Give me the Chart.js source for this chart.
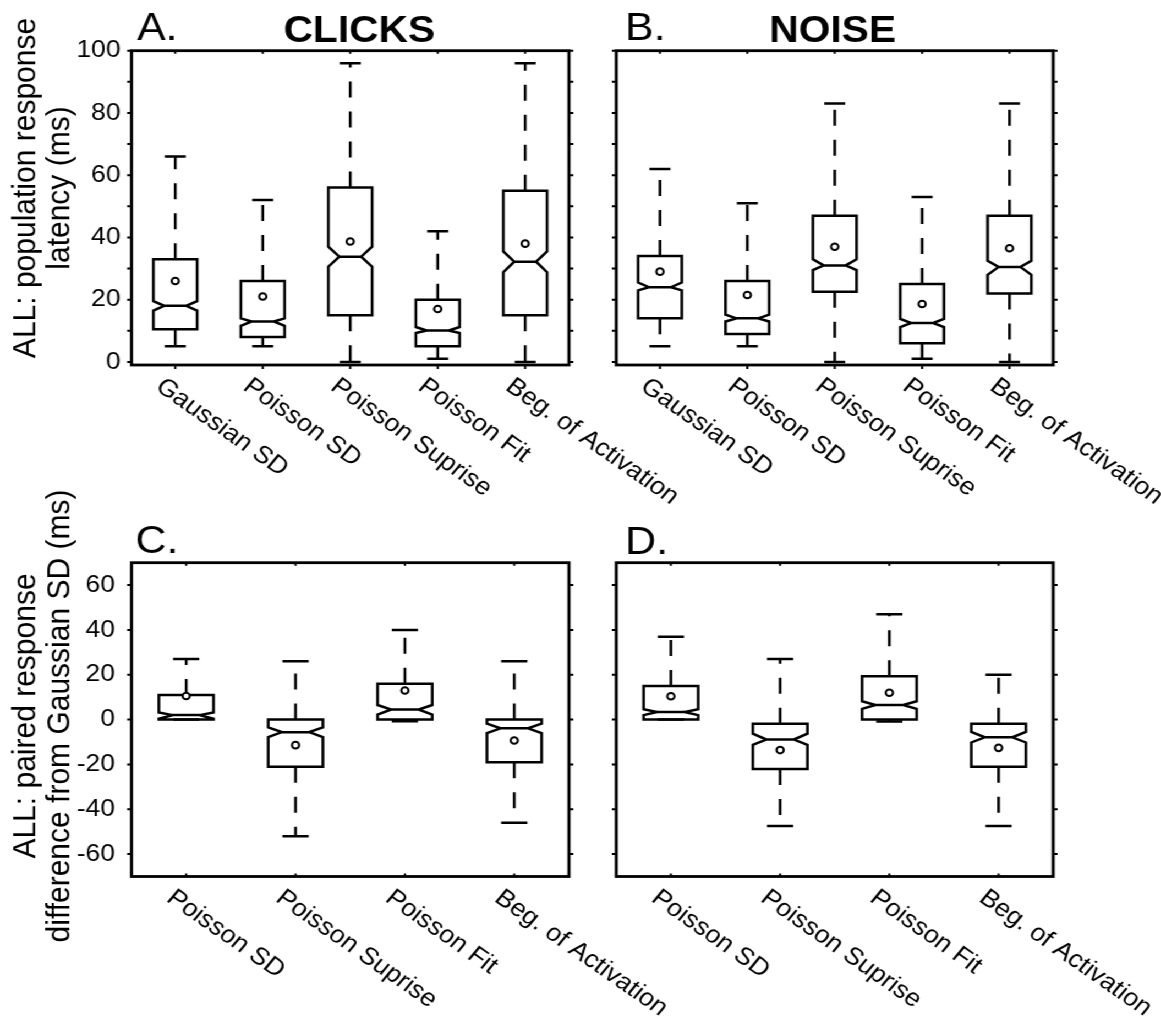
<!DOCTYPE html>
<html>
<head>
<meta charset="utf-8">
<title>Population response latency</title>
<script src="https://cdn.jsdelivr.net/npm/chart.js@4.4.1/dist/chart.umd.min.js"></script>
<style>
  html, body { margin: 0; padding: 0; background: #fff; overflow: hidden; }
  /* the original figure is a little wider than its fonts, so the drawing is stretched sideways */
  #fig { position: absolute; left: 0; top: 0; width: 1055px; height: 1025px;
         transform: scaleX(1.1005); transform-origin: 0 0; }
  #fig canvas { position: absolute; left: 0; top: 0; }
</style>
</head>
<body>
<div id="fig">
  <canvas id="chartA" width="1055" height="1025"></canvas>
  <canvas id="chartB" width="1055" height="1025"></canvas>
  <canvas id="chartC" width="1055" height="1025"></canvas>
  <canvas id="chartD" width="1055" height="1025"></canvas>
</div>
<script>
// categories
const latencyLabels = ['Gaussian SD', 'Poisson SD', 'Poisson Suprise', 'Poisson Fit', 'Beg. of Activation'];
const diffLabels = ['Poisson SD', 'Poisson Suprise', 'Poisson Fit', 'Beg. of Activation'];

// y ticks (latency ticks every 10, labelled every 20)
const latencyTicks = [0, 10, 20, 30, 40, 50, 60, 70, 80, 90, 100];
const diffTicks = [-60, -40, -20, 0, 20, 40, 60];

// A. CLICKS - latency (ms)
const clicksHi = [66, 52, 96, 42, 96];
const clicksQ3 = [33, 26, 56, 20, 55];
const clicksNotchHi = [19.5, 14, 37, 11.2, 35.5];
const clicksMed = [18, 13, 33.8, 10.1, 32.2];
const clicksNotchLo = [16.5, 11.6, 30.6, 9.3, 28.8];
const clicksQ1 = [10.5, 8, 15, 5, 15];
const clicksLo = [5, 5, 0, 1, 0];
const clicksMean = [26, 21, 38.7, 17, 38];

// B. NOISE - latency (ms)
const noiseHi = [62, 51, 83, 53, 83];
const noiseQ3 = [34, 26, 47, 25, 47];
const noiseNotchHi = [25.5, 15.2, 33, 13.8, 32.5];
const noiseMed = [24, 14, 31, 12.5, 30.5];
const noiseNotchLo = [23, 13, 29.5, 11.2, 28];
const noiseQ1 = [14, 9, 22.5, 6, 22];
const noiseLo = [5, 5, 0, 1, 0];
const noiseMean = [29, 21.5, 37, 18.6, 36.5];

// C. CLICKS - difference from Gaussian SD (ms)
const clicksDiffHi = [27, 26, 40, 26];
const clicksDiffQ3 = [11, 0, 16, 0];
const clicksDiffNotchHi = [3.2, -3.5, 6.5, -1.8];
const clicksDiffMed = [2, -5.6, 4.5, -3.9];
const clicksDiffNotchLo = [0.4, -7.8, 2.2, -6];
const clicksDiffQ1 = [0, -21, 0, -19];
const clicksDiffLo = [0, -52, -0.7, -46];
const clicksDiffMean = [10.5, -11.4, 13, -9.3];

// D. NOISE - difference from Gaussian SD (ms)
const noiseDiffHi = [37, 27, 47, 20];
const noiseDiffQ3 = [15, -1.8, 19.3, -1.8];
const noiseDiffNotchHi = [4.6, -6.3, 8.2, -5.5];
const noiseDiffMed = [3.4, -8.9, 6.5, -7.9];
const noiseDiffNotchLo = [2, -11.3, 4.8, -10.2];
const noiseDiffQ1 = [0, -22, 0, -21];
const noiseDiffLo = [0, -47.5, -0.9, -47.5];
const noiseDiffMean = [10.4, -13.6, 12, -12.6];

const FONT = '"Liberation Sans", Arial, Helvetica, sans-serif';
const CANVAS_W = 1055, CANVAS_H = 1025;
const Y_AXIS_W = 80, X_AXIS_H = 20;

// draws notched boxes + whiskers under the mean points, then frame, ticks and texts
const boxPlot = {
    id: 'boxPlot',
    beforeDatasetsDraw(chart, args, o) {
        const ctx = chart.ctx;
        const x = chart.scales.x, y = chart.scales.y;
        const s = o.stats;
        const step = x.getPixelForValue(1) - x.getPixelForValue(0);
        const hw = step * 0.25;
        const nw = hw * 0.5;
        const cw = step * 0.12;
        const py = v => y.getPixelForValue(v);
        ctx.save();
        ctx.strokeStyle = '#000';
        ctx.lineWidth = 2.5;
        ctx.lineJoin = 'miter';
        s.med.forEach((m, i) => {
            const cx = x.getPixelForValue(i);
            // dashed whiskers, starting at the box
            ctx.setLineDash([16, 14]);
            ctx.beginPath();
            ctx.moveTo(cx, py(s.q3[i]));
            ctx.lineTo(cx, py(s.hi[i]));
            ctx.stroke();
            ctx.beginPath();
            ctx.moveTo(cx, py(s.q1[i]));
            ctx.lineTo(cx, py(s.lo[i]));
            ctx.stroke();
            ctx.setLineDash([]);
            ctx.beginPath();
            ctx.moveTo(cx - cw, py(s.hi[i]));
            ctx.lineTo(cx + cw, py(s.hi[i]));
            ctx.moveTo(cx - cw, py(s.lo[i]));
            ctx.lineTo(cx + cw, py(s.lo[i]));
            ctx.stroke();

            const nHi = Math.min(s.notchHi[i], s.q3[i]);
            const nLo = Math.max(s.notchLo[i], s.q1[i]);
            ctx.beginPath();
            ctx.moveTo(cx - hw, py(s.q3[i]));
            ctx.lineTo(cx + hw, py(s.q3[i]));
            ctx.lineTo(cx + hw, py(nHi));
            ctx.lineTo(cx + nw, py(m));
            ctx.lineTo(cx + hw, py(nLo));
            ctx.lineTo(cx + hw, py(s.q1[i]));
            ctx.lineTo(cx - hw, py(s.q1[i]));
            ctx.lineTo(cx - hw, py(nLo));
            ctx.lineTo(cx - nw, py(m));
            ctx.lineTo(cx - hw, py(nHi));
            ctx.closePath();
            ctx.moveTo(cx - nw, py(m));
            ctx.lineTo(cx + nw, py(m));
            ctx.stroke();
        });
        ctx.restore();
    },
    afterDraw(chart, args, o) {
        const ctx = chart.ctx;
        const a = chart.chartArea;
        const x = chart.scales.x, y = chart.scales.y;
        ctx.save();
        ctx.strokeStyle = '#000';
        ctx.fillStyle = '#000';
        ctx.lineWidth = 2.8;
        ctx.strokeRect(a.left, a.top, a.right - a.left, a.bottom - a.top);

        // y ticks point outwards on both sides, x ticks inwards at the top
        ctx.lineWidth = 2;
        ctx.beginPath();
        y.ticks.forEach(t => {
            const p = y.getPixelForValue(t.value);
            ctx.moveTo(a.left - 4, p); ctx.lineTo(a.left, p);
            ctx.moveTo(a.right, p); ctx.lineTo(a.right + 4, p);
        });
        chart.data.labels.forEach((lab, i) => {
            const p = x.getPixelForValue(i);
            ctx.moveTo(p, a.top); ctx.lineTo(p, a.top + 3);
            ctx.moveTo(p, a.bottom); ctx.lineTo(p, a.bottom + o.bottomTick);
        });
        ctx.stroke();

        // rotated category names, reading downwards from each tick
        ctx.font = '24.5px ' + FONT;
        ctx.textAlign = 'left';
        ctx.textBaseline = 'alphabetic';
        chart.data.labels.forEach((lab, i) => {
            const p = x.getPixelForValue(i);
            ctx.save();
            ctx.translate(p - 19, a.bottom + 24);
            ctx.rotate(37.5 * Math.PI / 180);
            ctx.fillText(lab, 0, 0);
            ctx.restore();
        });

        ctx.font = '39px ' + FONT;
        ctx.fillText(o.letter.text, o.letter.x, o.letter.y);
        if (o.title) {
            ctx.font = 'bold 37px ' + FONT;
            ctx.textAlign = 'center';
            ctx.fillText(o.title.text, o.title.x, o.title.y);
        }
        if (o.yTitle) {
            ctx.font = '30px ' + FONT;
            ctx.textAlign = 'center';
            ctx.textBaseline = 'middle';
            o.yTitle.lines.forEach((line, k) => {
                ctx.save();
                ctx.translate(o.yTitle.x[k], o.yTitle.y);
                ctx.rotate(-Math.PI / 2);
                ctx.fillText(line, 0, 0);
                ctx.restore();
            });
        }
        ctx.restore();
    }
};

function makePanel(id, area, labels, stats, means, yRange, yTicks, panel) {
    const showLabels = !!panel.yTitle;
    return new Chart(document.getElementById(id), {
        type: 'line',
        data: {
            labels: labels,
            datasets: [{
                data: means,
                showLine: false,
                pointStyle: 'circle',
                pointRadius: 3.3,
                pointBorderWidth: 2,
                pointBackgroundColor: '#fff',
                pointBorderColor: '#000'
            }]
        },
        options: {
            responsive: false,
            animation: false,
            devicePixelRatio: 1,
            events: [],
            layout: {
                padding: {
                    left: area.left - Y_AXIS_W,
                    right: CANVAS_W - area.right,
                    top: area.top,
                    bottom: CANVAS_H - area.bottom - X_AXIS_H
                }
            },
            scales: {
                x: {
                    type: 'category',
                    offset: true,
                    afterFit: s => { s.height = X_AXIS_H; },
                    grid: { display: false, drawTicks: false },
                    border: { display: false },
                    ticks: { display: false }
                },
                y: {
                    type: 'linear',
                    min: yRange.min,
                    max: yRange.max,
                    afterFit: s => { s.width = Y_AXIS_W; },
                    afterBuildTicks: s => { s.ticks = yTicks.map(v => ({ value: v })); },
                    grid: { display: false, drawTicks: false },
                    border: { display: false },
                    ticks: {
                        display: showLabels,
                        autoSkip: false,
                        padding: panel.labelGap || 10,
                        color: '#000',
                        font: { size: 24, family: FONT },
                        callback: v => (v % 20 === 0 ? String(v) : '')
                    }
                }
            },
            plugins: {
                legend: { display: false },
                tooltip: { enabled: false },
                boxPlot: Object.assign({ stats: stats }, panel)
            }
        },
        plugins: [boxPlot]
    });
}

makePanel('chartA', { left: 119.5, right: 517, top: 50.7, bottom: 365 }, latencyLabels,
    { hi: clicksHi, q3: clicksQ3, notchHi: clicksNotchHi, med: clicksMed,
      notchLo: clicksNotchLo, q1: clicksQ1, lo: clicksLo },
    clicksMean, { min: -1, max: 100 }, latencyTicks,
    { letter: { text: 'A.', x: 124.5, y: 39.5 }, bottomTick: 4, labelGap: 10,
      title: { text: 'CLICKS', x: 326.5, y: 41.7 },
      yTitle: { lines: ['ALL: population response', 'latency (ms)'], x: [24, 55], y: 188 } });

makePanel('chartB', { left: 560, right: 957, top: 50.7, bottom: 365 }, latencyLabels,
    { hi: noiseHi, q3: noiseQ3, notchHi: noiseNotchHi, med: noiseMed,
      notchLo: noiseNotchLo, q1: noiseQ1, lo: noiseLo },
    noiseMean, { min: -1, max: 100 }, latencyTicks,
    { letter: { text: 'B.', x: 568, y: 39.5 }, bottomTick: 4,
      title: { text: 'NOISE', x: 756.5, y: 41.7 } });

makePanel('chartC', { left: 119.5, right: 517, top: 562.7, bottom: 876.5 }, diffLabels,
    { hi: clicksDiffHi, q3: clicksDiffQ3, notchHi: clicksDiffNotchHi, med: clicksDiffMed,
      notchLo: clicksDiffNotchLo, q1: clicksDiffQ1, lo: clicksDiffLo },
    clicksDiffMean, { min: -70, max: 70 }, diffTicks,
    { letter: { text: 'C.', x: 123, y: 553 }, bottomTick: -3, labelGap: 15,
      yTitle: { lines: ['ALL: paired response', 'difference from Gaussian SD (ms)'], x: [24, 55], y: 716 } });

makePanel('chartD', { left: 560, right: 957, top: 562.7, bottom: 876.5 }, diffLabels,
    { hi: noiseDiffHi, q3: noiseDiffQ3, notchHi: noiseDiffNotchHi, med: noiseDiffMed,
      notchLo: noiseDiffNotchLo, q1: noiseDiffQ1, lo: noiseDiffLo },
    noiseDiffMean, { min: -70, max: 70 }, diffTicks,
    { letter: { text: 'D.', x: 568, y: 554 }, bottomTick: -3 });
</script>
</body>
</html>
